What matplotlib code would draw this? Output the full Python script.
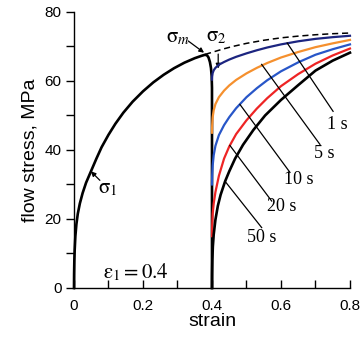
import matplotlib
matplotlib.use("Agg")
import matplotlib.pyplot as plt
from matplotlib.ticker import MultipleLocator

# ==========================================
# Data
# ==========================================

# first loading, sigma_1 curve, then unloading at strain 0.4
strain_1 = [0, 0.0003, 0.001, 0.002, 0.004, 0.007, 0.011, 0.017, 0.025, 0.035,
            0.05, 0.065, 0.08, 0.1, 0.12, 0.143, 0.17, 0.2, 0.23, 0.26,
            0.29, 0.32, 0.35, 0.37, 0.38, 0.386, 0.39, 0.394, 0.397, 0.399,
            0.4, 0.4]
stress_1 = [0, 4, 8, 11, 15, 18.5, 21.5, 24.5, 27.5, 30.5,
            34, 37.5, 40.8, 44.4, 47.6, 50.8, 54.0, 57, 59.6, 61.8,
            63.7, 65.3, 66.6, 67.3, 67.6, 67.4, 66.8, 65.5, 63.8, 61.5,
            58, 0]

# continuous flow curve (dashed)
strain_cont = [0.38, 0.4, 0.43, 0.46, 0.5, 0.55, 0.6, 0.65, 0.7, 0.75, 0.8]
stress_cont = [67.7, 68.3, 69.2, 70.0, 70.9, 71.8, 72.5, 73.0, 73.4, 73.7, 73.9]

# reloading after holding times
hold_labels = ["1 s", "5 s", "10 s", "20 s", "50 s"]
hold_colors = ["#1c2580", "#f5902e", "#2856c8", "#ee2424", "black"]

strain_re = [0.4, 0.4005, 0.402, 0.405, 0.41, 0.42, 0.435, 0.45, 0.47, 0.5,
             0.53, 0.56, 0.6, 0.65, 0.7, 0.75, 0.8]
stress_1s = [60.4, 61.3, 62.3, 63.1, 63.8, 64.7, 65.5, 66.2, 67.0, 68.0,
             68.9, 69.7, 70.6, 71.5, 72.2, 72.7, 73.1]
stress_5s = [45, 47, 49.5, 51.5, 53.3, 55.3, 57.2, 58.7, 60.3, 62.2,
             63.8, 65.2, 66.8, 68.4, 69.8, 70.9, 71.9]
stress_10s = [30, 32.5, 35.5, 38.5, 41.2, 44.3, 47.2, 49.5, 52.1, 55.3,
              57.9, 60.2, 62.8, 65.4, 67.6, 69.2, 70.6]
stress_20s = [15, 18, 21.5, 24.5, 27.8, 32.5, 37.5, 41, 44.6, 48.6,
              52.0, 55.0, 58.5, 62, 65, 67.4, 69.4]

strain_50s = [0.4, 0.4003, 0.401, 0.4025, 0.405, 0.41, 0.417, 0.425, 0.438, 0.45,
              0.467, 0.49, 0.52, 0.554, 0.6, 0.65, 0.7, 0.75, 0.8]
stress_50s = [0, 4, 8, 12, 15.5, 19.8, 23.8, 27, 30.9, 33.8,
              37.5, 41.5, 45.8, 50, 54.5, 58.8, 63.0, 65.9, 68.2]

hold_strains = [strain_re, strain_re, strain_re, strain_re, strain_50s]
hold_stresses = [stress_1s, stress_5s, stress_10s, stress_20s, stress_50s]

# leader lines: start on curve -> end near label, label centre
leader_start = [(0.618, 71.0), (0.544, 64.8), (0.481, 53.2), (0.452, 41.3), (0.438, 30.9)]
leader_end = [(0.751, 51.2), (0.713, 41.6), (0.626, 33.5), (0.573, 25.2), (0.544, 17.5)]
label_pos = [(0.762, 47.4), (0.725, 39.0), (0.652, 31.4), (0.602, 23.7), (0.545, 14.7)]

# ==========================================
# Plot
# ==========================================

plt.rcParams["mathtext.fontset"] = "stix"
sans = "Liberation Sans"
serif = "Liberation Serif"

fig = plt.figure(figsize=(3.62, 3.42), dpi=100)
ax = fig.add_axes([0.2044, 0.158, 0.7624, 0.807])

ax.plot(strain_1, stress_1, color="black", lw=1.9, solid_joinstyle="round",
        clip_on=False, zorder=3)
ax.plot(strain_cont, stress_cont, color="black", lw=1.1, ls=(0, (4, 2.5)))

for s, f, c in zip(hold_strains, hold_stresses, hold_colors):
    ax.plot(s, f, color=c, lw=1.6 if c != "black" else 1.9, clip_on=False, zorder=4)

for lab, p0, p1, pt in zip(hold_labels, leader_start, leader_end, label_pos):
    ax.plot([p0[0], p1[0]], [p0[1], p1[1]], color="black", lw=0.9, zorder=5)
    ax.text(pt[0], pt[1], lab, family=serif, fontsize=13,
            ha="center", va="center")

# sigma annotations
arrow = dict(arrowstyle="-|>", color="black", lw=0.9, mutation_scale=7,
             shrinkA=0, shrinkB=0)
ax.annotate("", xy=(0.049, 33.8), xytext=(0.075, 31.2), arrowprops=arrow)
ax.text(0.099, 29, r"$\mathrm{\sigma}_1$", fontsize=15, ha="center", va="center")

ax.annotate("", xy=(0.377, 68.2), xytext=(0.331, 71.6), arrowprops=arrow)
ax.text(0.301, 72.8, r"$\mathrm{\sigma}_m$", fontsize=15, ha="center", va="center")

ax.annotate("", xy=(0.418, 63.6), xytext=(0.418, 67.8), arrowprops=arrow)
ax.text(0.414, 73.0, r"$\mathrm{\sigma}_2$", fontsize=15, ha="center", va="center")

ax.text(0.178, 4.6, r"$\mathrm{\varepsilon}_1 = 0.4$", fontsize=15,
        ha="center", va="center")

# axes styling
ax.set_xlim(0, 0.8)
ax.set_ylim(0, 80)
ax.spines["top"].set_visible(False)
ax.spines["right"].set_visible(False)
for sp in ("left", "bottom"):
    ax.spines[sp].set_linewidth(1.0)

ax.xaxis.set_major_locator(MultipleLocator(0.2))
ax.xaxis.set_minor_locator(MultipleLocator(0.1))
ax.yaxis.set_major_locator(MultipleLocator(20))
ax.yaxis.set_minor_locator(MultipleLocator(10))
ax.set_xticks([0, 0.2, 0.4, 0.6, 0.8])
ax.set_xticklabels(["0", "0.2", "0.4", "0.6", "0.8"])

ax.tick_params(axis="x", which="both", direction="in", length=6, width=1.0,
               labelsize=11, pad=8)
ax.tick_params(axis="y", which="both", direction="out", length=6, width=1.0,
               labelsize=11, pad=3)
for t in ax.get_xticklabels() + ax.get_yticklabels():
    t.set_family(sans)

ax.set_xlabel("strain", family=sans, fontsize=14, labelpad=0)
ax.set_ylabel("flow stress, MPa", family=sans, fontsize=14, labelpad=4)

fig.savefig("out.png", dpi=100)
